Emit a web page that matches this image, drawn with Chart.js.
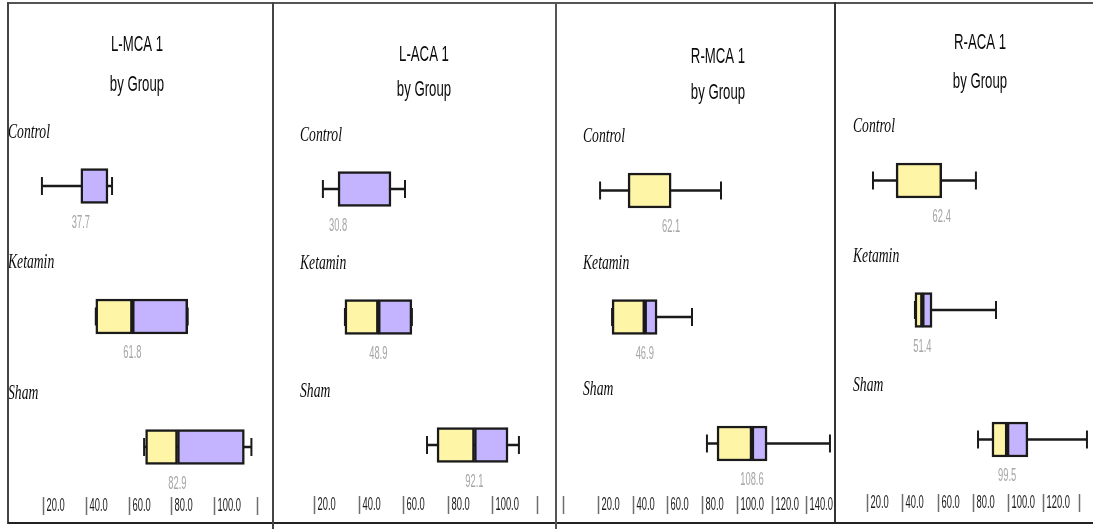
<!DOCTYPE html>
<html>
<head>
<meta charset="utf-8">
<script src="https://cdn.jsdelivr.net/npm/chart.js@4.4.0/dist/chart.umd.min.js"></script>
<style>
  html, body { margin: 0; padding: 0; background: #fff; }
  #wrap { position: relative; width: 1093px; height: 529px; overflow: hidden; }
  #wrap canvas { position: absolute; top: 0; }
  .rule { position: absolute; background: #444; z-index: 2; }
</style>
</head>
<body>
<div id="wrap">
  <div class="rule" style="left:8px;top:2px;width:1085px;height:2px;background:#555"></div>
  <div class="rule" style="left:7px;top:2px;width:2px;height:522px;"></div>
  <div class="rule" style="left:8px;top:522px;width:1085px;height:2px;background:#222"></div>
  <div class="rule" style="left:272px;top:2px;width:2px;height:527px;"></div>
  <div class="rule" style="left:555px;top:2px;width:2px;height:527px;background:#555"></div>
  <div class="rule" style="left:834px;top:2px;width:2px;height:520px;background:#333"></div>
</div>
<script>
const groups = ['Control', 'Ketamin', 'Sham'];
const titles = ['L-MCA 1', 'L-ACA 1', 'R-MCA 1', 'R-ACA 1'];

// one row per panel (L-MCA, L-ACA, R-MCA, R-ACA), one entry per group
const whiskerLow  = [[19.5, 44.7, 67.3], [24.0, 33.9, 70.8], [21.2, 28.1, 82.7], [23.4, 47.2, 83.0]];
const boxQ1       = [[37.7, 44.7, 68.0], [30.8, 33.9, 75.3], [37.3, 28.1, 88.5], [36.5, 47.2, 90.9]];
const medians     = [[37.7, 61.8, 82.9], [30.8, 48.9, 92.1], [62.1, 46.9, 108.6], [62.4, 51.4, 99.5]];
const boxQ3       = [[50.4, 87.7, 114.2], [54.6, 64.0, 107.2], [62.1, 54.0, 117.3], [62.4, 56.9, 111.3]];
const whiskerHigh = [[52.3, 87.7, 117.5], [60.9, 64.0, 112.1], [90.8, 74.1, 153.5], [81.8, 93.2, 144.8]];

const tickValues = [
  [20, 40, 60, 80, 100, 120],
  [20, 40, 60, 80, 100, 120],
  [0, 20, 40, 60, 80, 100, 120, 140],
  [20, 40, 60, 80, 100, 120, 140]
];
const tickLabels = [
  ['20.0', '40.0', '60.0', '80.0', '100.0', ''],
  ['20.0', '40.0', '60.0', '80.0', '100.0', ''],
  ['', '20.0', '40.0', '60.0', '80.0', '100.0', '120.0', '140.0'],
  ['20.0', '40.0', '60.0', '80.0', '100.0', '120.0', '']
];

// page placement of each panel (x20/x100 = pixel of the 20 and 100 ticks)
const panels = [
  { left: 0,   width: 272, x20: 43,  x100: 214,  c0: 186,   c2: 447,   titleX: 137, titleY: [45, 85], groupX: 8,   axisY: 506 },
  { left: 274, width: 281, x20: 314, x100: 492,  c0: 189,   c2: 445,   titleX: 424, titleY: [55, 90], groupX: 300, axisY: 505 },
  { left: 557, width: 277, x20: 598, x100: 737,  c0: 190.5, c2: 443.5, titleX: 718, titleY: [57, 93], groupX: 583, axisY: 505 },
  { left: 836, width: 257, x20: 867, x100: 1008, c0: 180.5, c2: 439.5, titleX: 980, titleY: [43, 82], groupX: 853, axisY: 503 }
];

const YELLOW = '#fff5a6';
const PURPLE = '#c4b3ff';
const INK = '#1a1a1a';
const H = 529;

function squeezed(ctx, text, x, y, font, sx, align, color) {
  ctx.save();
  ctx.font = font;
  ctx.fillStyle = color;
  ctx.textAlign = align;
  ctx.textBaseline = 'middle';
  ctx.translate(x, y);
  ctx.scale(sx, 1);
  ctx.fillText(text, 0, 0);
  ctx.restore();
}

function makePanel(p) {
  const P = panels[p];
  const canvas = document.createElement('canvas');
  canvas.width = P.width;
  canvas.height = H;
  canvas.style.left = P.left + 'px';
  canvas.style.width = P.width + 'px';
  canvas.style.height = H + 'px';
  document.getElementById('wrap').appendChild(canvas);

  const ppu = (P.x100 - P.x20) / 80;
  const xMin = 20 - (P.x20 - P.left) / ppu;
  const xMax = 20 + (P.left + P.width - P.x20) / ppu;
  const step = (P.c2 - P.c0) / 2;

  const caps = [];
  groups.forEach((g, i) => {
    caps.push({ x: whiskerLow[p][i], y: g });
    caps.push({ x: whiskerHigh[p][i], y: g });
  });

  const boxStyle = {
    type: 'bar',
    indexAxis: 'y',
    borderColor: INK,
    borderWidth: 2.5,
    borderSkipped: false,
    barThickness: 35,
    grouped: false
  };

  const labelsPlugin = {
    id: 'panelText',
    afterDraw(chart) {
      const ctx = chart.ctx;
      const xs = chart.scales.x;
      const ys = chart.scales.y;
      const dx = -P.left;

      squeezed(ctx, titles[p], P.titleX + dx, P.titleY[0], '22px "Liberation Sans"', 0.6, 'center', '#0a0a0a');
      squeezed(ctx, 'by Group', P.titleX + dx, P.titleY[1], '22px "Liberation Sans"', 0.6, 'center', '#0a0a0a');

      groups.forEach((g, i) => {
        const cy = ys.getPixelForValue(i);
        squeezed(ctx, g, P.groupX + dx, cy - 54, 'italic 22px "Liberation Serif"', 0.62, 'left', '#0a0a0a');
        const mx = xs.getPixelForValue(medians[p][i]);
        squeezed(ctx, medians[p][i].toFixed(1), mx, cy + 37, '18px "Liberation Sans"', 0.52, 'center', '#a6a6a6');
      });

      ctx.save();
      ctx.strokeStyle = '#6e6e6e';
      ctx.lineWidth = 1.5;
      tickValues[p].forEach((v, k) => {
        const tx = Math.round(xs.getPixelForValue(v)) + 0.5;
        ctx.beginPath();
        ctx.moveTo(tx, P.axisY - 9);
        ctx.lineTo(tx, P.axisY + 9);
        ctx.stroke();
        if (tickLabels[p][k]) {
          squeezed(ctx, tickLabels[p][k], tx + 3, P.axisY, '18px "Liberation Sans"', 0.52, 'left', '#1a1a1a');
        }
      });
      ctx.restore();
    }
  };

  new Chart(canvas, {
    type: 'bar',
    data: {
      labels: groups,
      datasets: [
        {
          type: 'bar',
          indexAxis: 'y',
          data: groups.map((g, i) => [whiskerLow[p][i], whiskerHigh[p][i]]),
          backgroundColor: INK,
          borderWidth: 0,
          barThickness: 2,
          grouped: false,
          order: 3
        },
        {
          type: 'scatter',
          data: caps,
          pointStyle: 'line',
          rotation: 90,
          radius: 9,
          borderColor: INK,
          borderWidth: 2,
          showLine: false,
          clip: false,
          order: 2
        },
        Object.assign({}, boxStyle, {
          data: groups.map((g, i) => [boxQ1[p][i], medians[p][i]]),
          backgroundColor: YELLOW,
          order: 1
        }),
        Object.assign({}, boxStyle, {
          data: groups.map((g, i) => [medians[p][i], boxQ3[p][i]]),
          backgroundColor: PURPLE,
          order: 0
        })
      ]
    },
    options: {
      indexAxis: 'y',
      responsive: false,
      animation: false,
      layout: {
        autoPadding: false,
        padding: { left: 0, right: 0, top: P.c0 - step / 2, bottom: H - (P.c2 + step / 2) }
      },
      scales: {
        x: { type: 'linear', min: xMin, max: xMax, offset: false, display: false },
        y: { type: 'category', offset: true, display: false }
      },
      plugins: {
        legend: { display: false },
        tooltip: { enabled: false }
      }
    },
    plugins: [labelsPlugin]
  });
}

titles.forEach((t, p) => makePanel(p));
</script>
</body>
</html>
